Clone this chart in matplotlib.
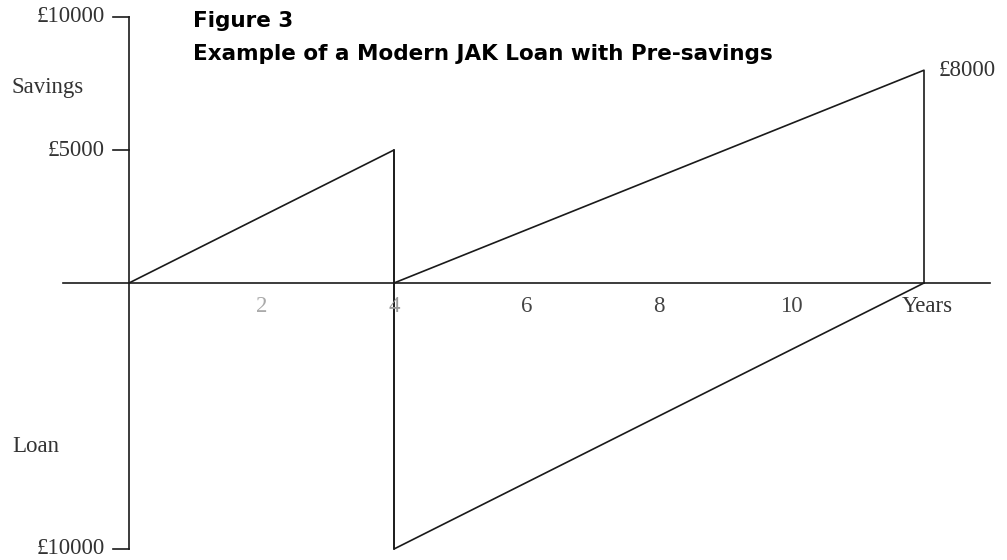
import matplotlib
matplotlib.use("Agg")
import matplotlib.pyplot as plt

# Data
pre_x = [0, 4, 4]
pre_y = [0, 5000, 0]
loan_x = [4, 4, 12]
loan_y = [0, -10000, 0]
post_x = [4, 12, 12]
post_y = [0, 8000, 0]
year_ticks = [2, 4, 6, 8, 10]
year_colors = ["#aaaaaa", "#999999", "#444444", "#444444", "#444444"]
y_ticks = [10000, 5000, -10000]
y_tick_labels = ["£10000", "£5000", "£10000"]
end_label = "£8000"

W, H = 1007, 560
fig = plt.figure(figsize=(W / 100, H / 100), dpi=100)
ax = fig.add_axes([0, 0, 1, 1])
ax.set_axis_off()

px_per_year = 66.25
x0_px = 129
px_per_unit = 266 / 10000
y0_px = 283
ax.set_xlim(-x0_px / px_per_year, (W - x0_px) / px_per_year)
ax.set_ylim(-(H - y0_px) / px_per_unit, y0_px / px_per_unit)

lc = "#1a1a1a"
lw = 1.2
serif = "Liberation Serif"
fs = 16.5
tc = "#333333"

# axes lines
ax.plot([-1.0, 13.0], [0, 0], color=lc, lw=lw)
ax.plot([0, 0], [-10000, 10000], color=lc, lw=lw)
tick_len = 16 / px_per_year
for v, lab in zip(y_ticks, y_tick_labels):
    ax.plot([-tick_len, 0], [v, v], color=lc, lw=lw)
    ax.text(-tick_len - 8 / px_per_year, v, lab, ha="right", va="center",
            fontsize=fs, family=serif, color=tc)

# series
ax.plot(pre_x, pre_y, color=lc, lw=lw)
ax.plot([4, 4], [5000, -10000], color=lc, lw=lw)
ax.plot(loan_x, loan_y, color=lc, lw=lw)
ax.plot(post_x, post_y, color=lc, lw=lw)

# x tick labels
for t, c in zip(year_ticks, year_colors):
    ax.text(t, -24 / px_per_unit, str(t), ha="center", va="center",
            fontsize=fs, family=serif, color=c)
ax.text(12.05, -24 / px_per_unit, "Years", ha="center", va="center",
        fontsize=fs, family=serif, color=tc)

ax.text(-117 / px_per_year, (y0_px - 88) / px_per_unit, "Savings", ha="left",
        va="center", fontsize=fs, family=serif, color=tc)
ax.text(-117 / px_per_year, (y0_px - 447) / px_per_unit, "Loan", ha="left",
        va="center", fontsize=fs, family=serif, color=tc)
ax.text(12 + 15 / px_per_year, post_y[1], end_label, ha="left", va="center",
        fontsize=fs, family=serif, color=tc)

fig.text(193 / W, 1 - 27 / H, "Figure 3", ha="left", va="baseline",
         fontsize=15.5, fontweight="bold", family="DejaVu Sans", color="black")
fig.text(193 / W, 1 - 60 / H, "Example of a Modern JAK Loan with Pre-savings",
         ha="left", va="baseline", fontsize=15.5, fontweight="bold",
         family="DejaVu Sans", color="black")

fig.savefig("out.png", dpi=100)
